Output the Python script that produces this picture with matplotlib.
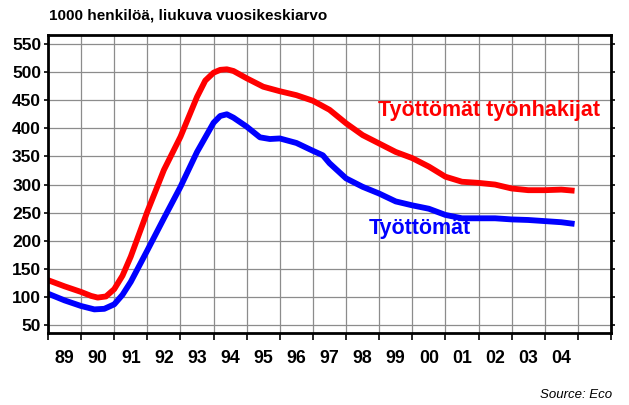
import matplotlib.pyplot as plt
import numpy as np

plt.rcParams["font.family"] = ["Liberation Sans", "DejaVu Sans"]

# ---------------------------------------------------------------------
# Data (1000 persons, moving yearly average)
# ---------------------------------------------------------------------
years_red = [1989.0, 1989.5, 1990.0, 1990.3, 1990.5, 1990.75, 1991.0, 1991.25,
             1991.5, 1992.0, 1992.5, 1993.0, 1993.5, 1993.75, 1994.0, 1994.2,
             1994.4, 1994.6, 1995.0, 1995.5, 1996.0, 1996.5, 1997.0, 1997.5,
             1998.0, 1998.5, 1999.0, 1999.5, 2000.0, 2000.5, 2001.0, 2001.5,
             2002.0, 2002.5, 2003.0, 2003.5, 2004.0, 2004.5, 2004.9]
tyonhakijat = [130, 119, 109, 102, 99, 101, 114, 138,
               172, 252, 326, 385, 456, 485, 499, 504,
               505, 502, 489, 474, 466, 459, 449, 433,
               409, 388, 373, 358, 347, 332, 314, 305,
               303, 300, 293, 290, 290, 291, 289]

years_blue = [1989.0, 1989.5, 1990.0, 1990.4, 1990.7, 1991.0, 1991.25, 1991.5,
              1992.0, 1992.5, 1993.0, 1993.5, 1994.0, 1994.2, 1994.4, 1994.6,
              1995.0, 1995.4, 1995.7, 1996.0, 1996.5, 1997.0, 1997.3, 1997.5,
              1998.0, 1998.5, 1999.0, 1999.5, 2000.0, 2000.5, 2001.0, 2001.5,
              2002.0, 2002.5, 2003.0, 2003.5, 2004.0, 2004.5, 2004.9]
tyottomat = [106, 94, 84, 78, 79, 87, 104, 127,
             183, 240, 296, 358, 410, 422, 425, 419,
             403, 384, 381, 382, 374, 360, 352, 338,
             311, 296, 284, 270, 263, 257, 246, 240,
             240, 240, 238, 237, 235, 233, 230]

year_labels = ["89", "90", "91", "92", "93", "94", "95", "96",
               "97", "98", "99", "00", "01", "02", "03", "04"]
yticks = list(range(50, 551, 50))

# ---------------------------------------------------------------------
# Plot
# ---------------------------------------------------------------------
fig = plt.figure(figsize=(6.29, 4.05), dpi=100)
ax = fig.add_axes([48 / 629, 1 - 333 / 405, 563 / 629, 298 / 405])

ax.plot(years_red, tyonhakijat, color="#ff0000", lw=4.2,
        solid_capstyle="butt", zorder=3)
ax.plot(years_blue, tyottomat, color="#0000ff", lw=4.2,
        solid_capstyle="butt", zorder=3)

ax.set_xlim(1989, 2006)
ax.set_ylim(36, 566)

ax.set_yticks(yticks)
ax.set_yticklabels([str(v) for v in yticks], fontsize=12.5, fontweight="bold")
ax.tick_params(axis="y", which="major", direction="out", length=3, width=1.2,
               pad=2, right=True, labelright=False)

major_x = np.arange(1989, 2007)
ax.set_xticks(major_x)
ax.set_xticklabels([])
ax.set_xticks(np.arange(1989.5, 1989.5 + len(year_labels)), minor=True)
ax.set_xticklabels(year_labels, minor=True, fontsize=12.8, fontweight="bold")
ax.tick_params(axis="x", which="major", direction="out", length=5, width=1.2)
ax.tick_params(axis="x", which="minor", length=0, pad=12)

ax.grid(True, which="major", color="#8c8c8c", lw=0.9)
for s in ax.spines.values():
    s.set_linewidth(2)
    s.set_zorder(4)

ax.text(1998.95, 432, "Työttömät työnhakijat", color="#ff0000",
        fontsize=15.5, fontweight="bold", va="center", ha="left")
ax.text(1998.7, 221, "Työttömät", color="#0000ff",
        fontsize=15.5, fontweight="bold", va="center", ha="left")

fig.text(49 / 629, 1 - 16 / 405, "1000 henkilöä, liukuva vuosikeskiarvo",
         fontsize=11, fontweight="bold", va="center", ha="left")
fig.text(612 / 629, 1 - 395 / 405, "Source: Eco", fontsize=9.5,
         style="italic", va="center", ha="right")

plt.savefig("out.png", dpi=100)
plt.close(fig)
